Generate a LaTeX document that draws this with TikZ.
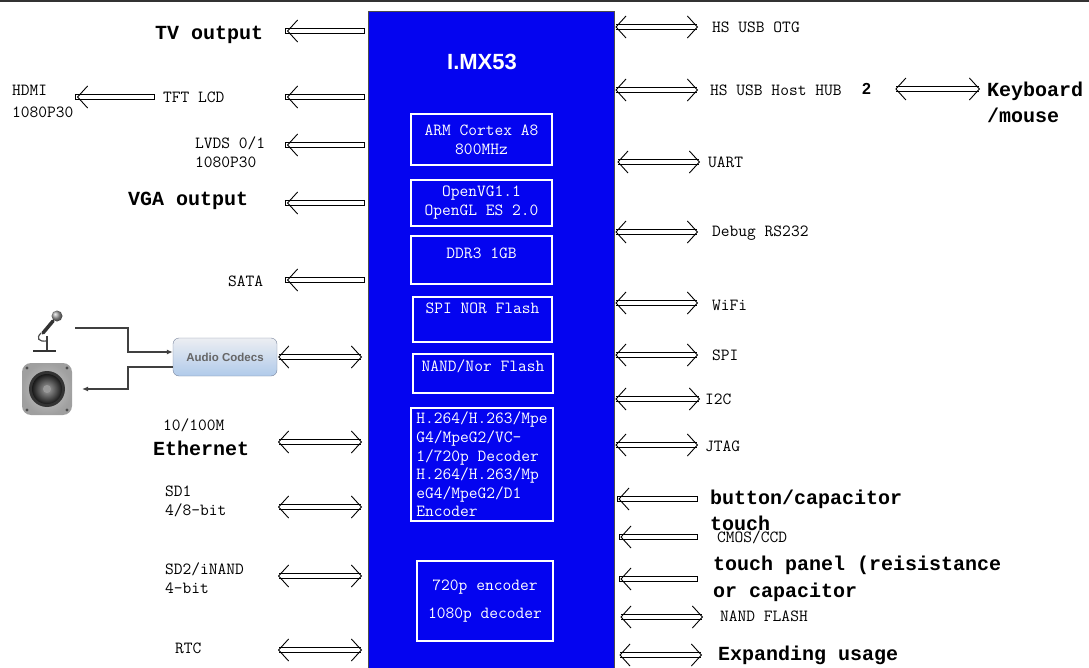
\documentclass[tikz,border=0pt]{standalone}
\usepackage{fontspec}
\usepackage{tikz}
\usetikzlibrary{arrows.meta,calc}
\newfontfamily\boldmono{Liberation Mono}
\newfontfamily\chipsans{Liberation Sans}
\definecolor{chipblue}{RGB}{4,4,240}
\definecolor{codectop}{RGB}{236,238,242}
\definecolor{codecbot}{RGB}{176,202,234}
\definecolor{codecline}{RGB}{120,132,156}

\begin{document}
\begin{tikzpicture}[x=1pt,y=-1pt,
  bus/.style={double,double distance=3.4pt,line width=0.9pt},
  busout/.style={bus,line cap=rect,-{Straight Barb[length=10pt,width=22pt]}},
  busio/.style={bus,{Straight Barb[length=10pt,width=22pt]}-{Straight Barb[length=10pt,width=22pt]}},
  lbl/.style={anchor=west,inner sep=0pt,align=left,font=\fontsize{17}{19}\selectfont\ttfamily},
  blbl/.style={anchor=west,inner sep=0pt,align=left,font=\fontsize{20}{26}\selectfont\boldmono\bfseries},
  chip/.style={draw=black!70,fill=chipblue,anchor=north west},
  ibox/.style={draw=white,line width=1.1pt,text=white,inner sep=1pt,align=center,font=\fontsize{17}{19}\selectfont\ttfamily},
  codecbox/.style={draw=codecline,rounded corners=6pt,top color=codectop,bottom color=codecbot,text=black!60,font=\fontsize{11.5}{13}\selectfont\chipsans\bfseries,minimum width=104pt,minimum height=38pt},
  audioline/.style={black!75,line width=1.2pt}]
\useasboundingbox (0,0) rectangle (1089,668);
\fill[black!80] (0,0) rectangle (1089,2.5);

% the processor
\node (mx) [chip,minimum width=246pt,minimum height=662pt] at (368,11) {};
\node (title) [text=white,font=\fontsize{22}{24}\selectfont\chipsans\bfseries] at (482,62) {I.MX53};
\node (arm) [ibox,minimum width=141pt,minimum height=51pt] at (481.5,139.5) {ARM Cortex A8\\800MHz};
\node (gpu) [ibox,minimum width=141pt,minimum height=46pt] at (481.5,203) {OpenVG1.1\\OpenGL ES 2.0};
\node (ddr) [ibox,minimum width=141pt,minimum height=48pt,text depth=14pt] at (481.5,260) {DDR3 1GB};
\node (spi) [ibox,minimum width=139pt,minimum height=45pt,text depth=22pt] at (482.5,319.5) {SPI NOR Flash};
\node (nor) [ibox,minimum width=140pt,minimum height=39pt,text depth=16pt] at (483,373.5) {NAND/Nor Flash};
\node (vdec) [ibox,align=left,minimum width=142pt,minimum height=113pt,font=\fontsize{17}{18.6}\selectfont\ttfamily] at (482,464.5)
  {H.264/H.263/Mpe\\G4/MpeG2/VC-\\1/720p Decoder\\H.264/H.263/Mp\\eG4/MpeG2/D1\\Encoder};
\node (venc) [ibox,minimum width=136pt,minimum height=80pt] at (485,601) {720p encoder\\[9pt]1080p decoder};

% left side
\node (tv) [blbl] at (155,35) {TV output};
\node (tft) [lbl] at (163,97) {TFT LCD};
\node (hdmi) [lbl] at (12,101) {HDMI\\[3pt]1080P30};
\node (lvds) [lbl] at (195,152.5) {LVDS 0/1\\1080P30};
\node (vga) [blbl] at (128,201) {VGA output};
\node (sata) [lbl] at (228,281) {SATA};
\node (codec) [codecbox] at (225,357) {Audio Codecs};
\node (fast) [lbl] at (163,425) {10/100M};
\node (eth) [blbl] at (153,448) {Ethernet};
\node (sd1) [lbl] at (165,501.5) {SD1\\4/8-bit};
\node (sd2) [lbl] at (165,578) {SD2/iNAND\\4-bit};
\node (rtc) [lbl] at (175,648) {RTC};

\coordinate (tv-b) at (287,31);
\coordinate (tft-b) at (287,97);
\coordinate (hdmi-b) at (77,97);
\coordinate (lvds-b) at (287,145);
\coordinate (vga-b) at (287,203);
\coordinate (sata-b) at (287,280);
\coordinate (eth-b) at (278,442);
\coordinate (sd1-b) at (278,507);
\coordinate (sd2-b) at (278,576);
\coordinate (rtc-b) at (278,650);

\draw[busout,shorten <=6pt] (mx.west |- tv-b) -- (tv-b);
\draw[busout,shorten <=6pt] (mx.west |- tft-b) -- (tft-b);
\draw[busout,shorten <=11pt] (tft.west) -- (hdmi-b);
\draw[busout,shorten <=6pt] (mx.west |- lvds-b) -- (lvds-b);
\draw[busout,shorten <=6pt] (mx.west |- vga-b) -- (vga-b);
\draw[busout,shorten <=6pt] (mx.west |- sata-b) -- (sata-b);
\draw[busio,shorten <=1pt,shorten >=6pt] (codec.east) -- (mx.west |- codec.east);
\draw[busio,shorten >=6pt] (eth-b) -- (mx.west |- eth-b);
\draw[busio,shorten >=6pt] (sd1-b) -- (mx.west |- sd1-b);
\draw[busio,shorten >=6pt] (sd2-b) -- (mx.west |- sd2-b);
\draw[busio,shorten >=6pt] (rtc-b) -- (mx.west |- rtc-b);

% microphone and speaker
\shade[ball color=gray!80] (57,316) circle (5.5);
\draw[black!80,line width=3.5pt,line cap=round] (53,321) -- (43,333);
\draw[black!70,line width=1.2pt] (41,333) .. controls (36,338) and (38,342) .. (47,341);
\draw[black!75,line width=1.5pt] (47,336) -- (47,350);
\draw[black!80,line width=2pt] (33,351) -- (56,351);
\shade[rounded corners=9pt,inner color=gray!40,outer color=gray!75] (22,363) rectangle (72,415);
\fill[black!80] (47,389) circle (18);
\shade[inner color=gray!70,outer color=black!90] (47,389) circle (15);
\fill[gray!80] (47,389) circle (4);
\fill[black!70] (27,368) circle (1.6);
\fill[black!70] (67,368) circle (1.6);
\fill[black!70] (27,410) circle (1.6);
\fill[black!70] (67,410) circle (1.6);

\coordinate (micout) at (75,328);
\coordinate (jin) at (128,352);
\coordinate (jout) at (128,367);
\coordinate (spkin) at (82,389);
\draw[audioline,-{Latex[length=6pt,width=5pt]}] (micout) -| (jin) -- (codec.west |- jin);
\draw[audioline,-{Latex[length=6pt,width=5pt]}] (codec.west |- jout) -- (jout) |- (spkin);

% right side
\node (otg) [lbl] at (712,27) {HS USB OTG};
\node (hub) [lbl] at (710,90) {HS USB Host HUB};
\node (two) [anchor=west,inner sep=0pt,font=\fontsize{16}{18}\selectfont\chipsans\bfseries] at (862,89) {2};
\node (kbd) [blbl,align=left] at (987,102.5) {Keyboard\\/mouse};
\node (uart) [lbl] at (708,162) {UART};
\node (dbg) [lbl] at (712,233) {Debug RS232};
\node (wifi) [lbl] at (712,305) {WiFi};
\node (spib) [lbl] at (712,355) {SPI};
\node (i2c) [lbl] at (705,399) {I2C};
\node (jtag) [lbl] at (705,446) {JTAG};
\node (btn) [blbl] at (710,510) {button/capacitor\\touch};
\node (cmos) [lbl] at (717,537) {CMOS/CCD};
\node (tp) [blbl,font=\fontsize{20}{27}\selectfont\boldmono\bfseries] at (713,578.5) {touch panel (reisistance\\or capacitor};
\node (nand) [lbl] at (720,616) {NAND FLASH};
\node (exp) [blbl] at (718,655) {Expanding usage};

\coordinate (otg-b) at (698,27);
\coordinate (hub-b) at (698,90);
\coordinate (uart-b) at (700,162);
\coordinate (dbg-b) at (698,232);
\coordinate (wifi-b) at (698,303);
\coordinate (spi-b) at (698,355);
\coordinate (i2c-b) at (700,399);
\coordinate (jtag-b) at (698,445);
\coordinate (btn-b) at (695,499);
\coordinate (cmos-b) at (695,537);
\coordinate (tp-b) at (695,579);
\coordinate (nand-b) at (703,617);
\coordinate (exp-b) at (702,655);

\draw[busio,shorten <=1pt] (mx.east |- otg-b) -- (otg-b);
\draw[busio,shorten <=1pt] (mx.east |- hub-b) -- (hub-b);
\draw[busio,shorten <=24pt,shorten >=7pt] (two.east) -- (kbd.west |- two.east);
\draw[busio,shorten <=3pt] (mx.east |- uart-b) -- (uart-b);
\draw[busio,shorten <=1pt] (mx.east |- dbg-b) -- (dbg-b);
\draw[busio,shorten <=1pt] (mx.east |- wifi-b) -- (wifi-b);
\draw[busio,shorten <=1pt] (mx.east |- spi-b) -- (spi-b);
\draw[busio,shorten <=1pt] (mx.east |- i2c-b) -- (i2c-b);
\draw[busio,shorten <=1pt] (mx.east |- jtag-b) -- (jtag-b);
\draw[busout,shorten >=4pt] (btn-b) -- (mx.east |- btn-b);
\draw[busout,shorten >=6pt] (cmos-b) -- (mx.east |- cmos-b);
\draw[busout,shorten >=6pt] (tp-b) -- (mx.east |- tp-b);
\draw[busio,shorten <=6pt] (mx.east |- nand-b) -- (nand-b);
\draw[busio,shorten <=5pt] (mx.east |- exp-b) -- (exp-b);
\end{tikzpicture}
\end{document}
